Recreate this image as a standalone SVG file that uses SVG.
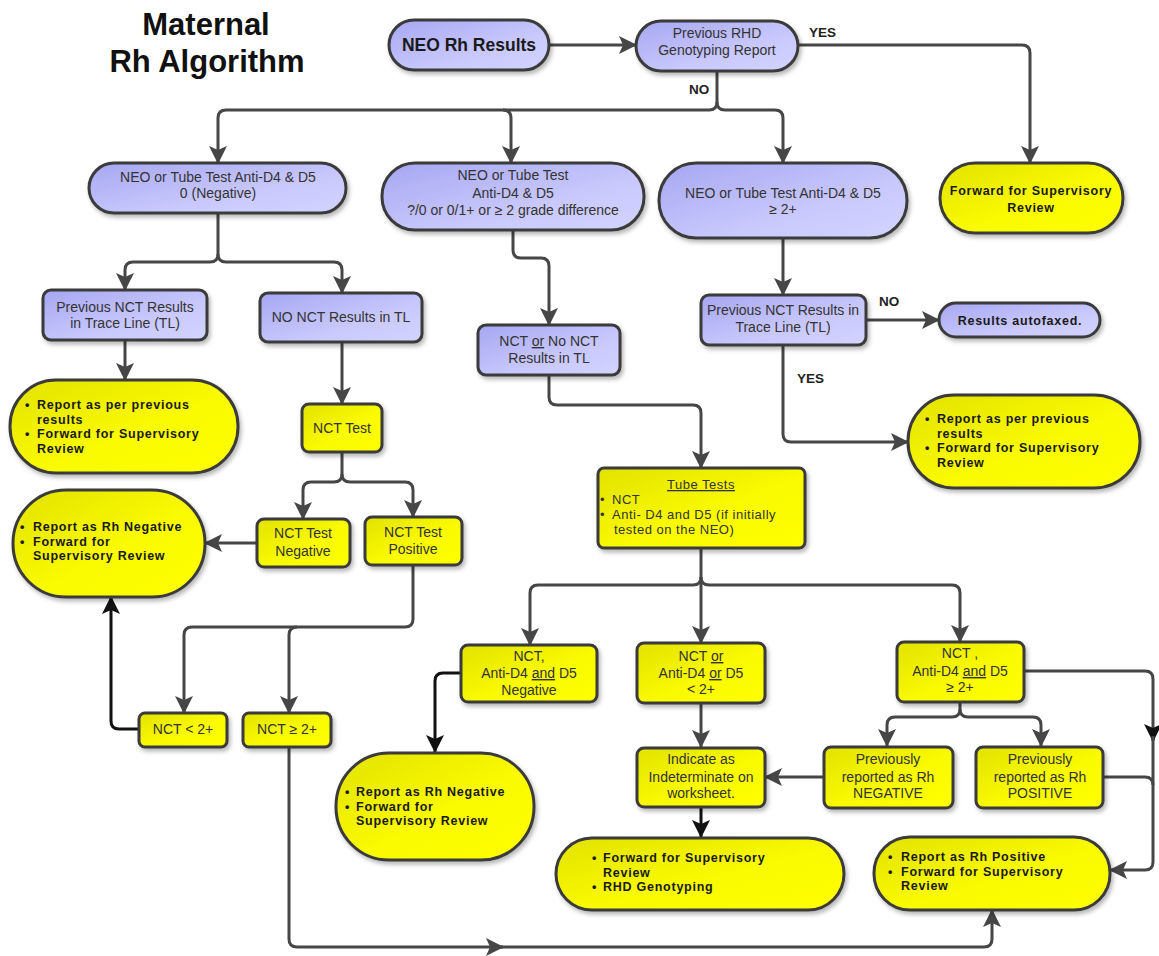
<svg xmlns="http://www.w3.org/2000/svg" width="1159" height="956" viewBox="0 0 1159 956">
<style>
.lav{fill:url(#gL);stroke:#3a3a3a;stroke-width:3;filter:url(#sh)}
.yel{fill:url(#gY);stroke:#3a3a3a;stroke-width:3;filter:url(#sh)}
text{font-family:"Liberation Sans",Arial,sans-serif;font-size:14px;fill:#333}
.c{text-anchor:middle}
.b{font-weight:bold;fill:#1a1a1a;font-size:12.5px;letter-spacing:0.75px}
.sm{font-size:13px;letter-spacing:0.5px}
.lbl{font-weight:bold;font-size:13.5px;fill:#222}
.title{font-weight:bold;font-size:31px;fill:#111;text-anchor:middle}
.ln{fill:none;stroke:#464646;stroke-width:3;stroke-linejoin:round}
.k{stroke:#111}
.a{marker-end:url(#ar)}
.ak{marker-end:url(#ark)}
</style>
<defs>
<linearGradient id="gL" x1="0" y1="0" x2="1" y2="1">
<stop offset="0" stop-color="#a6a6f2"/>
<stop offset="0.6" stop-color="#c8c8fd"/>
<stop offset="1" stop-color="#d4d4ff"/>
</linearGradient>
<linearGradient id="gY" x1="0" y1="0" x2="1" y2="1">
<stop offset="0" stop-color="#e2e200"/>
<stop offset="0.55" stop-color="#fafa00"/>
<stop offset="1" stop-color="#ffff00"/>
</linearGradient>
<filter id="sh" x="-10%" y="-10%" width="130%" height="140%">
<feDropShadow dx="2" dy="3" stdDeviation="2" flood-color="#000" flood-opacity="0.28"/>
</filter>
<marker id="ar" markerUnits="userSpaceOnUse" markerWidth="20" markerHeight="18" refX="17" refY="9" orient="auto">
<path d="M0,0 L18,9 L0,18 L4,9 z" fill="#464646"/>
</marker>
<marker id="ark" markerUnits="userSpaceOnUse" markerWidth="20" markerHeight="18" refX="17" refY="9" orient="auto">
<path d="M0,0 L18,9 L0,18 L4,9 z" fill="#111"/>
</marker>
</defs>
<rect width="1159" height="956" fill="#fff"/>

<g id="title">
<text class="title" x="206" y="35">Maternal</text>
<text class="title" x="207" y="72">Rh Algorithm</text>
</g>

<g id="connectors">
<path class="ln a" d="M549,45 H636"/>
<path class="ln a" d="M798,45 H1022 Q1030,45 1030,53 V163"/>
<path class="ln a" d="M717,71 V102 Q717,110 709,110 H226 Q218,110 218,118 V163"/>
<path class="ln a" d="M717,102 Q717,110 725,110 H775 Q783,110 783,118 V163"/>
<path class="ln a" d="M503,110 Q511,110 511,118 V163"/>
<path class="ln a" d="M218,213 V254 Q218,262 210,262 H133 Q125,262 125,270 V290"/>
<path class="ln a" d="M218,254 Q218,262 226,262 H334 Q342,262 342,270 V293"/>
<path class="ln a" d="M125,340 V380"/>
<path class="ln a" d="M342,342 V404"/>
<path class="ln a" d="M342,452 V474 Q342,482 334,482 H311 Q303,482 303,490 V519"/>
<path class="ln a" d="M342,474 Q342,482 350,482 H405 Q413,482 413,490 V517"/>
<path class="ln a" d="M257,543 H205"/>
<path class="ln a" d="M413,565 V619 Q413,627 405,627 H192 Q184,627 184,635 V713"/>
<path class="ln a" d="M297,627 Q289,627 289,635 V713"/>
<path class="ln k ak" d="M139,729 H119 Q111,729 111,721 V597"/>
<path class="ln a" d="M289,747 V939 Q289,947 297,947 H503"/>
<path class="ln a" d="M498,947 H984 Q992,947 992,939 V910"/>
<path class="ln a" d="M513,230 V250 Q513,258 521,258 H541 Q549,258 549,266 V325"/>
<path class="ln a" d="M549,375 V397 Q549,405 557,405 H693 Q701,405 701,413 V468"/>
<path class="ln a" d="M701,548 V577 Q701,585 693,585 H538 Q530,585 530,593 V645"/>
<path class="ln a" d="M701,577 V643"/>
<path class="ln a" d="M701,577 Q701,585 709,585 H952 Q960,585 960,593 V642"/>
<path class="ln k ak" d="M461,673 H443 Q435,673 435,681 V752"/>
<path class="ln a" d="M701,703 V747"/>
<path class="ln k ak" d="M701,807 V837"/>
<path class="ln a" d="M960,702 V709 Q960,717 952,717 H895 Q887,717 887,725 V746"/>
<path class="ln a" d="M960,709 Q960,717 968,717 H1033 Q1041,717 1041,725 V746"/>
<path class="ln a" d="M824,777 H765"/>
<path class="ln ak" d="M1024,671 H1145 Q1153,671 1153,679 V741"/>
<path class="ln a" d="M1153,736 V862 Q1153,870 1145,870 H1110"/>
<path class="ln" d="M1103,777 H1145 Q1153,777 1153,785"/>
<path class="ln a" d="M783,238 V295"/>
<path class="ln a" d="M866,320 H939"/>
<path class="ln a" d="M783,345 V434 Q783,442 791,442 H908"/>
<text class="lbl" x="809" y="37">YES</text>
<text class="lbl" x="689" y="94">NO</text>
<text class="lbl" x="879" y="306">NO</text>
<text class="lbl" x="797" y="383">YES</text>
</g>

<g id="n-neo">
<rect class="lav" x="389" y="20" width="160" height="50" rx="25"/>
<text class="c" x="469" y="51" style="font-size:17.5px;font-weight:bold;fill:#1a1a1a">NEO Rh Results</text>
</g>
<g id="n-prev-rhd">
<rect class="lav" x="636" y="21" width="162" height="50" rx="25"/>
<text class="c" x="717" y="38">Previous RHD</text>
<text class="c" x="717" y="55">Genotyping Report</text>
</g>
<g id="n-fwd-top">
<rect class="yel" x="940" y="163" width="183" height="70" rx="35"/>
<text class="c b" x="1031" y="195">Forward for Supervisory</text>
<text class="c b" x="1031" y="212">Review</text>
</g>
<g id="n-neg0">
<rect class="lav" x="89" y="163" width="257" height="50" rx="25"/>
<text class="c" x="218" y="182">NEO or Tube Test Anti-D4 &amp; D5</text>
<text class="c" x="218" y="198">0 (Negative)</text>
</g>
<g id="n-mid">
<rect class="lav" x="382" y="163" width="262" height="67" rx="33"/>
<text class="c" x="513" y="180">NEO or Tube Test</text>
<text class="c" x="513" y="198">Anti-D4 &amp; D5</text>
<text class="c" x="513" y="215">?/0 or 0/1+ or  ≥ 2 grade difference</text>
</g>
<g id="n-pos2">
<rect class="lav" x="659" y="163" width="248" height="75" rx="37"/>
<text class="c" x="783" y="198">NEO or Tube Test Anti-D4 &amp; D5</text>
<text class="c" x="783" y="214">≥ 2+</text>
</g>
<g id="n-prev-nct-l">
<rect class="lav" x="43" y="290" width="164" height="50" rx="8"/>
<text class="c" x="125" y="312">Previous NCT Results</text>
<text class="c" x="125" y="328">in Trace Line (TL)</text>
</g>
<g id="n-no-nct">
<rect class="lav" x="260" y="293" width="162" height="49" rx="8"/>
<text class="c" x="341" y="322">NO NCT Results in TL</text>
</g>
<g id="n-report-prev-l">
<rect class="yel" x="10" y="380" width="228" height="93" rx="46"/>
<text class="b"><tspan x="25" y="409">•</tspan><tspan x="37" y="409">Report as per previous</tspan><tspan x="37" y="423.5">results</tspan><tspan x="25" y="438">•</tspan><tspan x="37" y="438">Forward for Supervisory</tspan><tspan x="37" y="452.5">Review</tspan></text>
</g>
<g id="n-nct-test">
<rect class="yel" x="302" y="404" width="80" height="48" rx="7"/>
<text class="c" x="342" y="433">NCT Test</text>
</g>
<g id="n-nct-neg">
<rect class="yel" x="257" y="519" width="93" height="48" rx="7"/>
<text class="c" x="303" y="538">NCT Test</text>
<text class="c" x="303" y="556">Negative</text>
</g>
<g id="n-nct-pos">
<rect class="yel" x="365" y="517" width="97" height="48" rx="7"/>
<text class="c" x="413" y="537">NCT Test</text>
<text class="c" x="413" y="554">Positive</text>
</g>
<g id="n-report-neg-l">
<rect class="yel" x="13" y="490" width="192" height="107" rx="53"/>
<text class="b"><tspan x="20" y="531">•</tspan><tspan x="33" y="531">Report as Rh Negative</tspan><tspan x="20" y="545.5">•</tspan><tspan x="33" y="545.5">Forward for</tspan><tspan x="33" y="560">Supervisory Review</tspan></text>
</g>
<g id="n-nct-lt2">
<rect class="yel" x="139" y="713" width="88" height="34" rx="6"/>
<text class="c" x="183" y="734">NCT &lt; 2+</text>
</g>
<g id="n-nct-ge2">
<rect class="yel" x="243" y="713" width="88" height="34" rx="6"/>
<text class="c" x="287" y="734">NCT ≥ 2+</text>
</g>
<g id="n-nct-or-no">
<rect class="lav" x="478" y="325" width="142" height="50" rx="8"/>
<text class="c" x="549" y="346">NCT <tspan text-decoration="underline">or</tspan> No NCT</text>
<text class="c" x="549" y="363">Results in TL</text>
</g>
<g id="n-tube">
<rect class="yel" x="598" y="468" width="207" height="80" rx="6"/>
<text class="c sm" x="701" y="489" text-decoration="underline">Tube Tests</text>
<text class="sm"><tspan x="600" y="504">•</tspan><tspan x="612" y="504">NCT</tspan><tspan x="600" y="519">•</tspan><tspan x="612" y="519">Anti- D4 and D5 (if initially</tspan><tspan x="614" y="534">tested on the NEO)</tspan></text>
</g>
<g id="n-nct-neg-both">
<rect class="yel" x="461" y="645" width="136" height="57" rx="7"/>
<text class="c" x="529" y="661">NCT,</text>
<text class="c" x="529" y="678">Anti-D4 <tspan text-decoration="underline">and</tspan> D5</text>
<text class="c" x="529" y="695">Negative</text>
</g>
<g id="n-report-neg-m">
<rect class="yel" x="336" y="753" width="198" height="107" rx="53"/>
<text class="b"><tspan x="345" y="796">•</tspan><tspan x="356" y="796">Report as Rh Negative</tspan><tspan x="345" y="810.5">•</tspan><tspan x="356" y="810.5">Forward for</tspan><tspan x="356" y="825">Supervisory Review</tspan></text>
</g>
<g id="n-nct-lt2-or">
<rect class="yel" x="637" y="643" width="128" height="60" rx="7"/>
<text class="c" x="701" y="661">NCT <tspan text-decoration="underline">or</tspan></text>
<text class="c" x="701" y="678">Anti-D4 <tspan text-decoration="underline">or</tspan> D5</text>
<text class="c" x="701" y="694">&lt; 2+</text>
</g>
<g id="n-indicate">
<rect class="yel" x="637" y="748" width="128" height="59" rx="7"/>
<text class="c" x="701" y="764">Indicate as</text>
<text class="c" x="701" y="782">Indeterminate on</text>
<text class="c" x="701" y="798">worksheet.</text>
</g>
<g id="n-fwd-geno">
<rect class="yel" x="556" y="838" width="288" height="72" rx="36"/>
<text class="b"><tspan x="592" y="862">•</tspan><tspan x="603" y="862">Forward for Supervisory</tspan><tspan x="603" y="876.5">Review</tspan><tspan x="592" y="891">•</tspan><tspan x="603" y="891">RHD Genotyping</tspan></text>
</g>
<g id="n-nct-ge2-both">
<rect class="yel" x="897" y="642" width="127" height="60" rx="7"/>
<text class="c" x="960" y="658">NCT ,</text>
<text class="c" x="960" y="676">Anti-D4 <tspan text-decoration="underline">and</tspan> D5</text>
<text class="c" x="960" y="692">≥ 2+</text>
</g>
<g id="n-prev-neg">
<rect class="yel" x="824" y="747" width="129" height="61" rx="7"/>
<text class="c" x="888" y="764">Previously</text>
<text class="c" x="888" y="782">reported as Rh</text>
<text class="c" x="888" y="798">NEGATIVE</text>
</g>
<g id="n-prev-pos">
<rect class="yel" x="976" y="747" width="127" height="61" rx="7"/>
<text class="c" x="1040" y="764">Previously</text>
<text class="c" x="1040" y="782">reported as Rh</text>
<text class="c" x="1040" y="798">POSITIVE</text>
</g>
<g id="n-report-pos">
<rect class="yel" x="874" y="837" width="236" height="73" rx="36"/>
<text class="b"><tspan x="888" y="861">•</tspan><tspan x="901" y="861">Report as Rh Positive</tspan><tspan x="888" y="875.5">•</tspan><tspan x="901" y="875.5">Forward for Supervisory</tspan><tspan x="901" y="890">Review</tspan></text>
</g>
<g id="n-prev-nct-r">
<rect class="lav" x="701" y="295" width="165" height="50" rx="8"/>
<text class="c" x="783" y="315">Previous NCT Results in</text>
<text class="c" x="783" y="332">Trace Line (TL)</text>
</g>
<g id="n-autofax">
<rect class="lav" x="939" y="303" width="161" height="34" rx="17"/>
<text class="c b" x="1020" y="325">Results autofaxed.</text>
</g>
<g id="n-report-prev-r">
<rect class="yel" x="908" y="395" width="232" height="93" rx="46"/>
<text class="b"><tspan x="925" y="423">•</tspan><tspan x="937" y="423">Report as per previous</tspan><tspan x="937" y="437.5">results</tspan><tspan x="925" y="452">•</tspan><tspan x="937" y="452">Forward for Supervisory</tspan><tspan x="937" y="466.5">Review</tspan></text>
</g>
</svg>
